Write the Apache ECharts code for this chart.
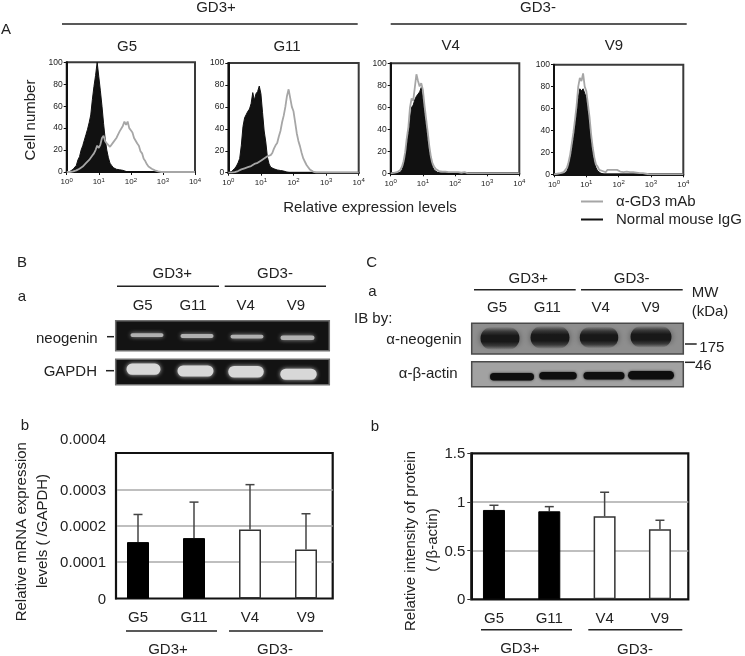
<!DOCTYPE html>
<html><head><meta charset="utf-8">
<style>html,body{margin:0;padding:0;background:#fff}#c{width:745px;height:656px;filter:blur(.45px)}</style>
<script src="https://cdn.jsdelivr.net/npm/echarts@6/dist/echarts.min.js"></script>
</head><body><div id="c"></div>
<script>
// ---------- data ----------
const lines = ['G5','G11','V4','V9'];
const logBins = [0,.05,.1,.15,.2,.25,.3,.35,.4,.45,.5,.55,.6,.65,.7,.75,.8,.85,.9,.95,1,1.05,1.1,1.15,1.2,1.25,1.3,1.35,1.4,1.45,1.5,1.55,1.6,1.65,1.7,1.75,1.8,1.85,1.9,1.95,2,2.05,2.1,2.15,2.2,2.25,2.3,2.35,2.4,2.45,2.5,2.55,2.6,2.65,2.7,2.75,2.8,2.85,2.9,2.95,3,4];
const igG_G5  = [0,0,.5,1,2.5,4,6,11,14,20,24,29,34,39,45,52,66,78,88,100,87,74,60,44,30,20,13,8,6,4,3,2.5,2,2,2.5,1.5,1,.5,.5];
const gd3_G5  = [0,0,0,0,.5,1,1.5,2,3,4,5,6,8,7,11,13,15,17,20,24,22,25,31,33,28,26,25,23,24,27,26,31,34,37,36,42,46,43,46,40,38,36,31,30,26,24,19,17,12,10,7,5,3.5,3,2,1.5,1,.5,.5];
const igG_G11 = [0,0,1,2,4,6,9,13,25,42,50,53,56,58,63,73,66,72,74,79,72,55,38,28,14,8,5,4,3.5,3,2.5,2,2,1.5,1.5,1,.5,.5];
const gd3_G11 = [0,0,0,0,.5,1,1.5,2,3,3.5,4,4.5,5,5.5,6,7,8,8.5,9,10,11,12,13,14,15,16,16,18,22,25,27,33,38,46,52,60,70,76,68,60,56,46,36,29,24,18,13,10,7,5,3,2,1,.5];
const igG_V4  = [0,0,0,0,0,.5,1,3,7,14,26,36,48,60,62,67,70,72,74,78,68,55,43,31,20,11,6,3,1.5,1,.5];
const gd3_V4  = [0,0,.3,.5,1,1.5,3,6,11,19,32,42,60,68,66,78,90,84,79,82,76,62,50,38,25,15,9,6,4,2.5,2,1.5,1.5,1,1.5,1,1,1.5,1,1,1,.5,1,1,.5,.5,1,.5];
const igG_V9  = [0,0,0,0,0,0,.5,1.5,3,7,13,22,32,44,56,70,78,76,78,74,70,58,45,30,18,10,6,3,2,1,.5];
const gd3_V9  = [0,0,.5,.5,1,1,2,3,6,11,18,28,38,50,63,80,88,85,92,80,76,64,52,36,24,15,9,7,4,3,3,2,2,4,3,4,3,4,3,4,3,2.5,3,2,2,2.5,2,2,1.5,2,1.5,1.5,1.5,1,1,1,1,.5,.5];
const histIgG = [igG_G5, igG_G11, igG_V4, igG_V9];
const histGd3 = [gd3_G5, gd3_G11, gd3_V4, gd3_V9];
const histXTicks = ['0','1','2','3','4'];
const mrnaMeans = [0.000155,0.000166,0.00019,0.000135];
const mrnaTops  = [0.000231,0.000265,0.000313,0.000233];
const mrnaTicks = ['0','0.0001','0.0002','0.0003','0.0004'];
const proteinMeans = [0.918,0.904,0.853,0.719];
const proteinTops  = [0.966,0.952,1.10,0.812];
const proteinTicks = ['0','0.5','1','1.5'];
// gel / blot bands: lane position, height in panel, lane width, band thickness
const bandsNeoRna = [[0,.52,.66,.13],[1,.49,.66,.13],[2,.47,.66,.13],[3.01,.43,.68,.15]];
const bandsGapdh  = [[-.07,.61,.68,.44],[.97,.54,.72,.44],[1.98,.51,.71,.46],[3.03,.41,.73,.44]];
const bandsNeoWb  = [[0,.51,.78,.74],[1,.54,.78,.74],[1.98,.54,.77,.7],[3.02,.56,.82,.7]];
const bandsActin  = [[.24,.4,.88,.3],[1.16,.44,.75,.3],[2.08,.44,.82,.3],[3.02,.46,.92,.34]];

// ---------- layout helpers ----------
const FONT = '"Liberation Sans", Arial, sans-serif';
const INK = '#222';
const graphic = [];
function label(x,y,text,align,size,rot){
  graphic.push({type:'text',x:rot?x+1:x,y:rot?y:y+1,rotation:rot?Math.PI/2:0,silent:true,
    style:{text:text,fill:INK,font:(size||15)+'px '+FONT,align:align||'center',verticalAlign:'middle'}});
}
function rule(x1,y,x2,y2,w){
  graphic.push({type:'line',silent:true,shape:{x1:x1,y1:y,x2:x2,y2:y2===undefined?y:y2},style:{stroke:'#222',lineWidth:w||1.5}});
}
const grid=[],xAxis=[],yAxis=[],series=[];
function addGrid(l,t,r,b,extra){
  grid.push(Object.assign({left:l,top:t,width:r-l,height:b-t,containLabel:false},extra||{}));
  return grid.length-1;
}

// ---------- panel A: flow histograms ----------
const histBoxes=[[66.7,62.3,195,172],[228.3,63,358.7,172.7],[390.7,63.3,519.3,173.3],[554,64.7,683.3,174.3]];
histBoxes.forEach((b,k)=>{
  const g=addGrid(b[0],b[1],b[2],b[3],{show:true,borderColor:'#3a3a3a',borderWidth:2,backgroundColor:'#fff'});
  xAxis.push({gridIndex:g,type:'value',min:0,max:4,interval:1,splitLine:{show:false},
    axisLine:{show:true,onZero:false,lineStyle:{color:'#111',width:2}},axisTick:{show:true,length:3,lineStyle:{color:'#111'}},
    axisLabel:{margin:5,formatter:v=>'{b|10}{s|'+histXTicks[v]+'}',rich:{b:{fontSize:8,fontFamily:FONT,color:INK},s:{fontSize:6,fontFamily:FONT,color:INK,padding:[0,0,4,0]}}}});
  yAxis.push({gridIndex:g,type:'value',min:0,max:100,interval:20,splitLine:{show:false},
    axisLine:{show:true,lineStyle:{color:'#111',width:2}},axisTick:{show:true,length:3,lineStyle:{color:'#111'}},
    axisLabel:{margin:4,fontSize:8.5,fontFamily:FONT,color:INK}});
  series.push({name:'Normal mouse IgG',type:'line',xAxisIndex:g,yAxisIndex:g,symbol:'none',silent:true,z:2,
    itemStyle:{color:'#111'},lineStyle:{color:'#111',width:1},areaStyle:{color:'#111',opacity:1},
    data:logBins.map((x,i)=>[x,histIgG[k][i]||0])});
  series.push({name:'α-GD3 mAb',type:'line',xAxisIndex:g,yAxisIndex:g,symbol:'none',silent:true,z:3,
    itemStyle:{color:'#a6a6a6'},lineStyle:{color:'#a6a6a6',width:1.8},
    data:logBins.map((x,i)=>[x,histGd3[k][i]||0])});
});
label(216,7,'GD3+'); rule(62,24,357.7);
label(538,7,'GD3-'); rule(390.7,24,686.7);
label(6,29,'A','center');
[[127,46],[287,46],[450.7,45],[614,45]].forEach((p,i)=>label(p[0],p[1],lines[i]));
label(30,120,'Cell number','center',15,true);
label(370,206.7,'Relative expression levels');

// ---------- gel / blot panels ----------
function bandSeries(g,data,fill,blur,shadow){
  series.push({type:'custom',xAxisIndex:g,yAxisIndex:g,silent:true,z:3,clip:true,
    data:data,encode:{x:0,y:1},
    renderItem:(p,api)=>{
      const x=api.value(0),y=api.value(1),w=api.value(2),h=api.value(3);
      const a=api.coord([x-w/2,y+h/2]), c=api.coord([x+w/2,y-h/2]);
      return {type:'rect',shape:{x:a[0],y:a[1],width:c[0]-a[0],height:c[1]-a[1],r:(c[1]-a[1])/2},
        style:{fill:fill,shadowBlur:blur,shadowColor:shadow}};
    }});
}
function blot(box,xr,bands,bg,border,fill,blur,shadow){
  const g=addGrid(box[0],box[1],box[2],box[3],{show:true,backgroundColor:bg,borderColor:border,borderWidth:1.5});
  xAxis.push({gridIndex:g,type:'value',min:xr[0],max:xr[1],show:false});
  yAxis.push({gridIndex:g,type:'value',min:0,max:1,show:false});
  bandSeries(g,bands,fill,blur,shadow);
}
const softBand={type:'linear',x:0,y:0,x2:0,y2:1,colorStops:[
  {offset:0,color:'rgba(60,60,60,.05)'},{offset:.22,color:'rgba(45,45,45,.85)'},{offset:.38,color:'#181818'},
  {offset:.65,color:'#181818'},{offset:.82,color:'rgba(45,45,45,.8)'},{offset:1,color:'rgba(60,60,60,.05)'}]};
blot([115.7,320.7,329.3,350.7],[-.626,3.646],bandsNeoRna,'#131313','#6e6e6e','#b0b0b0',4,'rgba(190,190,190,.8)');
blot([115.7,359.3,329.3,384.7],[-.626,3.646],bandsGapdh,'#131313','#6e6e6e','#d8d8d8',4,'rgba(225,225,225,.85)');
blot([471.7,323.3,683.3,354],[-.566,3.666],bandsNeoWb,'#8e8e8e','#4a4a4a',softBand,6,'rgba(35,35,35,.55)');
blot([471.7,361.7,683.3,386.7],[-.566,3.666],bandsActin,'#a2a2a2','#4a4a4a','#0e0e0e',2.5,'rgba(15,15,15,.8)');

label(22,262,'B'); label(22,295.7,'a');
label(172.3,273,'GD3+'); label(275,273,'GD3-');
rule(117,286.3,219); rule(224.7,286.3,326);
[142.7,193,245.7,296].forEach((x,i)=>label(x,305,lines[i]));
label(97.7,337.7,'neogenin','right'); rule(107,336.7,114);
label(97,371,'GAPDH','right'); rule(106,370.7,114);

label(371.7,262,'C'); label(372.3,290.7,'a'); label(354,318.3,'IB by:','left');
label(528.3,277.7,'GD3+'); label(631.7,277.7,'GD3-');
rule(474,289.7,575.7); rule(581,289.7,682.7);
[497,547.3,600.7,650.7].forEach((x,i)=>label(x,307.3,lines[i]));
label(691.7,291.7,'MW','left'); label(691.7,310.7,'(kDa)','left');
label(461.7,339,'α-neogenin','right'); label(457.7,372.7,'α-β-actin','right');
rule(685,344,696.7); label(699.3,346.7,'175','left');
rule(685,362.3,695); label(695,365,'46','left');

// ---------- bar charts ----------
function barPanel(frame,barLeft,barWidth,maxV,step,ticks,means,tops,tickLen,labelRaise){
  const f=addGrid(frame[0],frame[1],frame[2],frame[3],{show:true,borderColor:'#111',borderWidth:2.2,backgroundColor:'transparent'});
  xAxis.push({gridIndex:f,type:'category',data:lines,show:false});
  yAxis.push({gridIndex:f,type:'value',min:0,max:maxV,interval:step,
    splitLine:{show:true,showMaxLine:false,showMinLine:false,lineStyle:{color:'#aaa',width:1.5}},
    axisLine:{show:true,lineStyle:{color:'#111',width:2}},
    axisTick:{show:tickLen>0,length:tickLen,lineStyle:{color:'#333'}},
    axisLabel:{margin:tickLen>0?6:10,padding:[2,0,0,0],fontSize:15,fontFamily:FONT,color:INK,
      formatter:v=>{const i=Math.round(v/step);return (labelRaise&&i===ticks.length-1)?'{up|'+ticks[i]+'}':ticks[i];},
      rich:{up:{fontSize:15,fontFamily:FONT,color:INK,padding:[0,0,labelRaise?28:0,0]}}}});
  const b=addGrid(barLeft,frame[1],barLeft+barWidth,frame[3]);
  xAxis.push({gridIndex:b,type:'category',data:lines,
    axisLine:{show:false},axisTick:{show:false},
    axisLabel:{margin:12,fontSize:15,fontFamily:FONT,color:INK}});
  yAxis.push({gridIndex:b,type:'value',min:0,max:maxV,show:false});
  series.push({type:'bar',xAxisIndex:b,yAxisIndex:b,barWidth:22,silent:true,z:3,
    data:means.map((m,i)=>({value:m,itemStyle:i<2?{color:'#000',borderColor:'#000',borderWidth:1}:{color:'#fff',borderColor:'#333',borderWidth:1.5}}))});
  series.push({type:'custom',xAxisIndex:b,yAxisIndex:b,silent:true,z:2,clip:false,
    data:means.map((m,i)=>[i,m,tops[i]]),encode:{x:0,y:2},
    renderItem:(p,api)=>{
      const a=api.coord([api.value(0),api.value(1)]),t=api.coord([api.value(0),api.value(2)]);
      const st={stroke:'#444',lineWidth:1.5};
      return {type:'group',children:[
        {type:'line',shape:{x1:a[0],y1:a[1],x2:t[0],y2:t[1]},style:st},
        {type:'line',shape:{x1:t[0]-4.5,y1:t[1],x2:t[0]+4.5,y2:t[1]},style:st}]};
    }});
}
barPanel([116,453,332.7,598.5],110,224,0.0004,0.0001,mrnaTicks,mrnaMeans,mrnaTops,0,true);
barPanel([471.3,453.3,688.3,599.3],466.3,221.3,1.5,0.5,proteinTicks,proteinMeans,proteinTops,4,false);

label(25,425,'b'); label(375,425.7,'b');
label(21,531.7,'Relative mRNA expression','center',15,true);
label(41.7,531,'levels ( /GAPDH)','center',15,true);
rule(126,631,217); rule(229,631,323);
label(168,649,'GD3+'); label(275,649,'GD3-');
label(410,541,'Relative intensity of protein','center',15,true);
label(431.7,540,'( /β-actin)','center',15,true);
rule(481,629.7,572); rule(588.3,629.7,682.3);
label(520,648,'GD3+'); label(635,649,'GD3-');

const chart=echarts.init(document.getElementById('c'),null,{renderer:'canvas'});
chart.setOption({
  animation:false,backgroundColor:'#fff',textStyle:{fontFamily:FONT},
  legend:{orient:'vertical',left:576,top:189,itemGap:3,itemWidth:22,itemHeight:2,icon:'rect',selectedMode:false,
    textStyle:{fontSize:15,fontFamily:FONT,color:INK,padding:[0,0,0,8]},
    data:['α-GD3 mAb','Normal mouse IgG']},
  grid,xAxis,yAxis,series,graphic
});
</script></body></html>
